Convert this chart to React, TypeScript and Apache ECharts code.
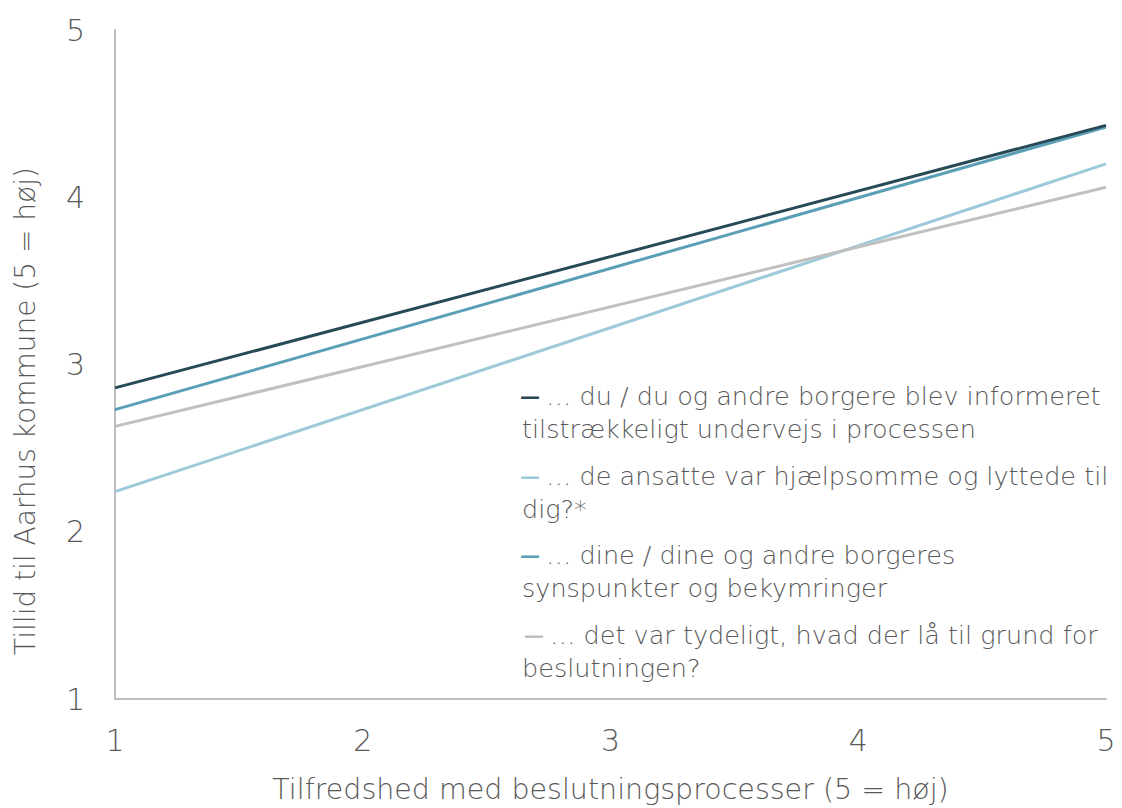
import React, { useEffect, useRef } from "react";
import * as echarts from "echarts";

const xRange = [1, 5];
const seriesNames = [
  "… du / du og andre borgere blev informeret tilstrækkeligt undervejs i processen",
  "… de ansatte var hjælpsomme og lyttede til dig?*",
  "… dine / dine og andre borgeres synspunkter og bekymringer",
  "… det var tydeligt, hvad der lå til grund for beslutningen?",
];
const informeret = [2.86, 4.43];
const hjaelpsomme = [2.24, 4.2];
const synspunkter = [2.73, 4.42];
const tydeligt = [2.63, 4.06];
const colors = ["#284a57", "#9ccad8", "#5a9fb6", "#c0c0c0"];
const legendLines = [
  ["… du / du og andre borgere blev informeret", "tilstrækkeligt undervejs i processen"],
  ["… de ansatte var hjælpsomme og lyttede til", "dig?*"],
  ["… dine / dine og andre borgeres", "synspunkter og bekymringer"],
  ["… det var tydeligt, hvad der lå til grund for", "beslutningen?"],
];
const yTitle = "Tillid til Aarhus kommune (5 = høj)";
const xTitle = "Tilfredshed med beslutningsprocesser (5 = høj)";

const FONT = "'DejaVu Sans', sans-serif";

export default function App() {
  const ref = useRef<HTMLDivElement>(null);
  useEffect(() => {
    if (!ref.current) return;
    const chart = echarts.init(ref.current, undefined, { renderer: "svg" });
    const values = [informeret, hjaelpsomme, synspunkter, tydeligt];
    const legendTops = [383, 463, 542, 622];
    const graphics: any[] = [];
    legendLines.forEach((lines, i) => {
      graphics.push({
        type: "text",
        left: 520 + (i === 3 ? 4 : 0),
        top: legendTops[i],
        style: {
          text: "{m|—}" + lines[0],
          fill: "#595959",
          font: `200 25.5px ${FONT}`,
          rich: {
            m: { fill: colors[i], fontSize: 20, fontFamily: FONT, fontWeight: "bold", padding: [0, 6, 0, 0] },
          },
        },
      });
      graphics.push({
        type: "text",
        left: 522,
        top: legendTops[i] + 33,
        style: {
          text: lines[1],
          fill: "#595959",
          font: `200 25.5px ${FONT}`,
        },
      });
    });
    graphics.push({
      type: "text",
      x: 25,
      y: 411,
      rotation: Math.PI / 2,
      style: {
        text: yTitle,
        fill: "#595959",
        font: `200 28px ${FONT}`,
        textAlign: "center",
        textVerticalAlign: "middle",
      },
    });
    chart.setOption({
      animation: false,
      grid: { left: 115, right: 16, top: 30, bottom: 109, containLabel: false, outerBoundsMode: "none" },
      xAxis: {
        type: "value",
        min: xRange[0],
        max: xRange[1],
        interval: 1,
        name: xTitle,
        nameLocation: "middle",
        nameGap: 76,
        nameTextStyle: { fontSize: 28.5, color: "#595959", fontFamily: FONT, fontWeight: 200, verticalAlign: "top" },
        axisLine: { show: true, lineStyle: { color: "#bfbfbf", width: 2 } },
        axisTick: { show: false },
        splitLine: { show: false },
        axisLabel: { fontSize: 30, color: "#595959", fontFamily: FONT, fontWeight: 200, margin: 26 },
      },
      yAxis: {
        type: "value",
        min: 1,
        max: 5,
        interval: 1,
        axisLine: { show: true, lineStyle: { color: "#bfbfbf", width: 2 } },
        axisTick: { show: false },
        splitLine: { show: false },
        axisLabel: { fontSize: 30, color: "#595959", fontFamily: FONT, fontWeight: 200, margin: 30 },
      },
      graphic: graphics,
      series: values.map((v, i) => ({
        type: "line",
        name: seriesNames[i],
        data: [
          [xRange[0], v[0]],
          [xRange[1], v[1]],
        ],
        symbol: "none",
        lineStyle: { color: colors[i], width: 3 },
        z: i === 0 ? 5 : 3,
      })),
    });
    return () => chart.dispose();
  }, []);
  return <div ref={ref} style={{ width: 1122, height: 808, position: "absolute", left: 0, top: 0 }} />;
}
